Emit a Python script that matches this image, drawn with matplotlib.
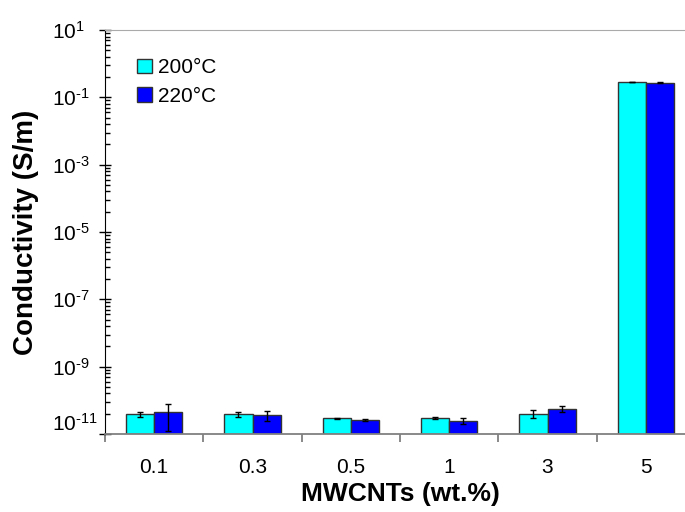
import numpy as np
import matplotlib
matplotlib.use('Agg')
import matplotlib.pyplot as plt
from matplotlib.patches import Patch
from matplotlib.ticker import FixedLocator, NullFormatter, FuncFormatter
import matplotlib.transforms as mtransforms

plt.rcParams['font.family'] = ['Liberation Sans', 'DejaVu Sans']
plt.rcParams['mathtext.fontset'] = 'custom'
plt.rcParams['mathtext.rm'] = 'Liberation Sans'
plt.rcParams['axes.unicode_minus'] = False

# data
conc = ['0.1', '0.3', '0.5', '1', '3', '5']
s200 = [3.9e-11, 3.9e-11, 2.9e-11, 3.0e-11, 4.0e-11, 0.286]
s200_lo = [3.2e-11, 3.2e-11, 2.75e-11, 2.85e-11, 3.0e-11, 0.280]
s200_hi = [4.5e-11, 4.5e-11, 3.05e-11, 3.15e-11, 5.1e-11, 0.292]
s220 = [4.5e-11, 3.6e-11, 2.65e-11, 2.5e-11, 5.65e-11, 0.272]
s220_lo = [1.2e-11, 2.5e-11, 2.45e-11, 2.0e-11, 4.5e-11, 0.262]
s220_hi = [7.9e-11, 4.7e-11, 2.85e-11, 3.05e-11, 6.9e-11, 0.284]
labels = ['200°C', '220°C']
colors = ['#00FFFF', '#0000FF']

base = 1e-11
s200 = np.array(s200); s220 = np.array(s220)
err200 = [s200 - np.array(s200_lo), np.array(s200_hi) - s200]
err220 = [s220 - np.array(s220_lo), np.array(s220_hi) - s220]

fig = plt.figure(figsize=(6.85, 5.12), dpi=100)
ax = fig.add_axes([105/685, (512-434)/512, 590/685, 404/512])

x = np.arange(len(conc)) + 0.5
w = 0.285
ax.bar(x - w/2, s200 - base, w, bottom=base, color=colors[0], edgecolor='#333333', lw=1, zorder=2)
ax.bar(x + w/2, s220 - base, w, bottom=base, color=colors[1], edgecolor='#333333', lw=1, zorder=2)
ax.errorbar(x - w/2, s200, yerr=err200, fmt='none', ecolor='black', elinewidth=1, capsize=2.5, zorder=3)
ax.errorbar(x + w/2, s220, yerr=err220, fmt='none', ecolor='black', elinewidth=1, capsize=2.5, zorder=3)

ax.set_yscale('log')
ax.set_ylim(base, 10)
ax.set_xlim(0, len(conc))


def pow_label(v, pos):
    e = int(round(np.log10(v)))
    if e < 0:
        return r'$\mathdefault{10^{\text{-}%d}}$' % (-e)
    return r'$\mathdefault{10^{%d}}$' % e


majors = [10.0**e for e in range(-11, 2, 2)]
minors = [m * k**2 for m in majors[:-1] for k in range(2, 10)]
ax.yaxis.set_major_locator(FixedLocator(majors))
ax.yaxis.set_major_formatter(FuncFormatter(pow_label))
ax.yaxis.set_minor_locator(FixedLocator(minors))
ax.yaxis.set_minor_formatter(NullFormatter())
ax.tick_params(axis='y', which='major', direction='inout', length=9, width=1, pad=33.5, labelsize=15)
ax.tick_params(axis='y', which='minor', direction='in', length=3.5, width=1)
for tl in ax.get_yticklabels():
    tl.set_horizontalalignment('left')
last = ax.get_yticklabels()[0]
last.set_transform(last.get_transform() + mtransforms.ScaledTranslation(0, 9/72, fig.dpi_scale_trans))

ax.set_xticks(x)
ax.set_xticklabels(conc)
ax.set_xticks(np.arange(len(conc) + 1), minor=True)
ax.tick_params(axis='x', which='major', length=0, pad=17, labelsize=15)
ax.tick_params(axis='x', which='minor', direction='out', length=6, width=1.3, color='#808080')

ax.spines['left'].set_color('black')
ax.spines['bottom'].set_color('#808080')
ax.spines['bottom'].set_linewidth(1.3)
ax.spines['top'].set_color('#aaaaaa')
ax.spines['right'].set_visible(False)

ax.set_xlabel('MWCNTs (wt.%)', fontsize=19, fontweight='bold', va='top')
ax.xaxis.set_label_coords(0.5, -0.118)
ax.set_ylabel('Conductivity (S/m)', fontsize=20, fontweight='bold')
ax.yaxis.set_label_coords(-0.112, 0.5)

handles = [Patch(facecolor=c, edgecolor='#333333', lw=1) for c in colors]
ax.legend(handles, labels, loc='upper left', bbox_to_anchor=(0.055, 0.93), frameon=False,
          fontsize=15, handlelength=0.7, handleheight=0.7, handletextpad=0.3,
          labelspacing=0.45, borderpad=0, borderaxespad=0)

fig.savefig('out.png', dpi=100)
